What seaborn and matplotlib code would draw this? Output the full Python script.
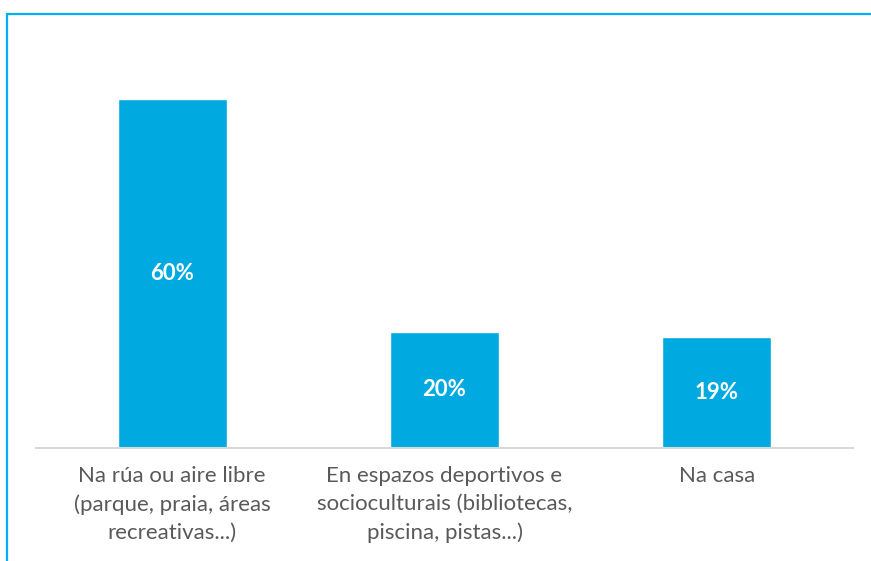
import matplotlib
matplotlib.use("Agg")
import matplotlib.pyplot as plt
from matplotlib.patches import Rectangle
import seaborn as sns
import pandas as pd

categories = [
    "Na rúa ou aire libre\n(parque, praia, áreas\nrecreativas...)",
    "En espazos deportivos e\nsocioculturais (bibliotecas,\npiscina, pistas...)",
    "Na casa",
]
values = [60, 20, 19]

df = pd.DataFrame({"lugar": categories, "pct": values})

sns.set_theme(style="white")
plt.rcParams["font.family"] = ["Lato", "DejaVu Sans"]

W, H = 871, 561
fig = plt.figure(figsize=(W / 100, H / 100), dpi=100)
ax = fig.add_axes([36 / W, 1 - 448 / H, (853 - 36) / W, (448 - 29) / H])

bar_color = "#00AAE0"
sns.barplot(data=df, x="lugar", y="pct", color=bar_color, width=0.4,
            saturation=1, ax=ax)

ax.set_xlim(-0.5, 2.5)
ax.set_ylim(0, 72)
ax.set_xlabel("")
ax.set_ylabel("")
ax.set_yticks([])
for side in ["top", "left", "right"]:
    ax.spines[side].set_visible(False)
ax.spines["bottom"].set_color("#D9D9D9")
ax.spines["bottom"].set_linewidth(1.5)
ax.tick_params(axis="x", length=0, pad=13, labelsize=16, labelcolor="#595959")
for lbl in ax.get_xticklabels():
    lbl.set_multialignment("center")
    lbl.set_linespacing(1.5)

for patch, v in zip(ax.patches, values):
    cx = patch.get_x() + patch.get_width() / 2
    ax.text(cx, v / 2, f"{v}%", ha="center", va="center", color="white",
            fontsize=16, fontweight="bold")

# outer frame
fig.patches.append(Rectangle((7 / W, -0.1), 1.2, 1 - 14 / H + 0.1,
                             transform=fig.transFigure, fill=False,
                             edgecolor="#00B0F0", linewidth=1.6, zorder=10))

fig.savefig("out.png", dpi=100)
